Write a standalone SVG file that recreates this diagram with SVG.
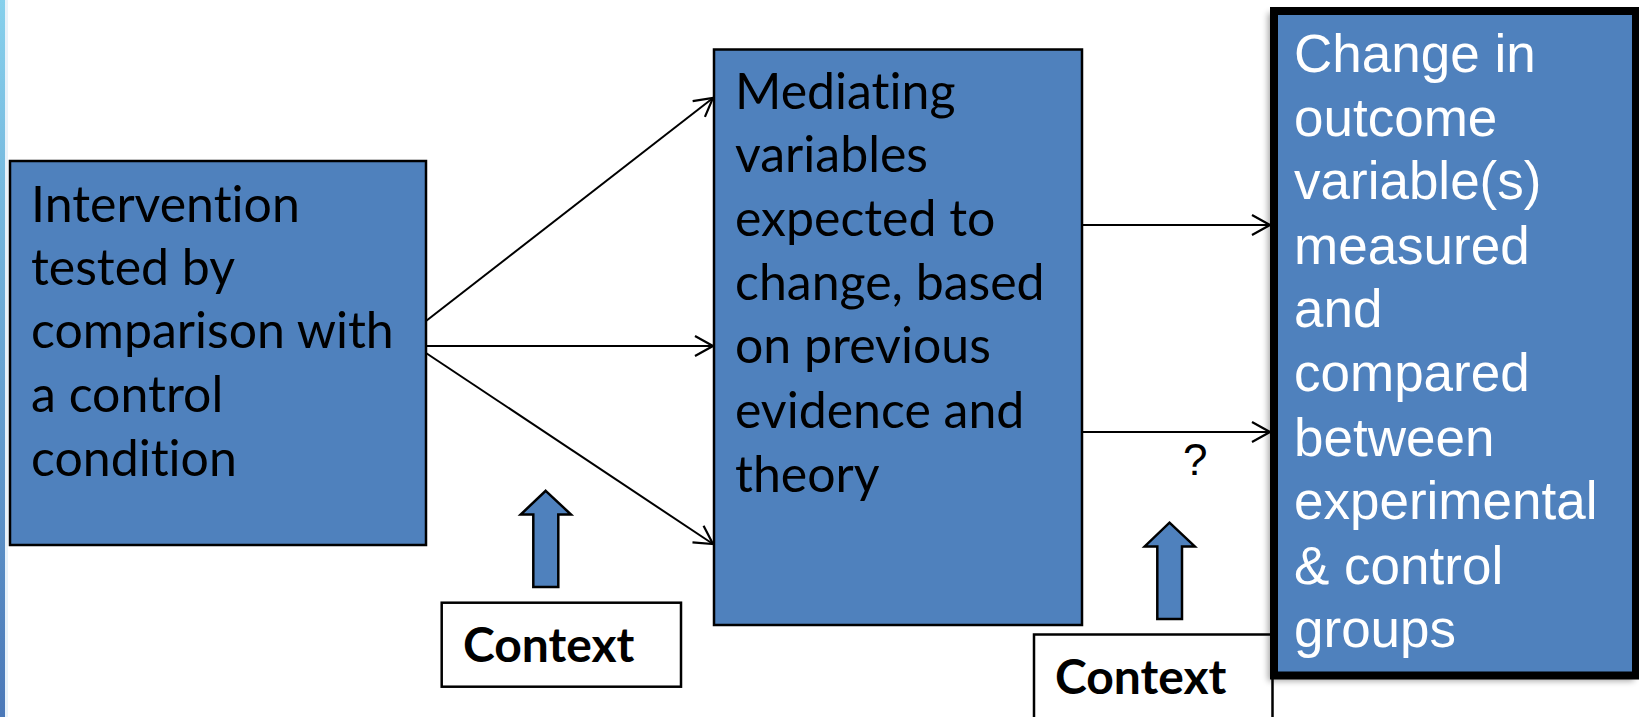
<svg xmlns="http://www.w3.org/2000/svg" width="1639" height="717" viewBox="0 0 1639 717">
<defs>
<style>
.box{fill:#4f81bd;stroke:#000;stroke-width:2.5}
.ctx{fill:#fff;stroke:#000;stroke-width:2.5}
.t{font-family:Lato,"Open Sans",sans-serif;font-size:50px;fill:#000;font-variant-ligatures:none;font-feature-settings:"liga" 0}
.tw{font-family:"Liberation Sans",Arial,sans-serif;font-size:53px;fill:#fff}
.tb{font-family:Lato,"Open Sans",sans-serif;font-size:48px;font-weight:bold;fill:#000;font-variant-ligatures:none;font-feature-settings:"liga" 0}
.ln{stroke:#000;stroke-width:2;fill:none}
.blk{fill:#4f81bd;stroke:#000;stroke-width:2.5;stroke-linejoin:miter}
</style>
<marker id="ah" markerUnits="userSpaceOnUse" viewBox="0 0 20 22" refX="19" refY="11" markerWidth="20" markerHeight="22" orient="auto">
<path d="M1,1 L19,11 L1,21" fill="none" stroke="#000" stroke-width="2.2"/>
</marker>
<linearGradient id="strip" x1="0" y1="0" x2="0" y2="1">
<stop offset="0" stop-color="#86d0ec"/>
<stop offset="1" stop-color="#4a78b8"/>
</linearGradient>
<filter id="sh" x="-5%" y="-5%" width="110%" height="110%">
<feGaussianBlur stdDeviation="3"/>
</filter>
</defs>
<rect width="1639" height="717" fill="#fff"/>
<rect x="0" y="0" width="5" height="717" fill="url(#strip)"/>
<rect x="5" y="0" width="3" height="717" fill="#d8eaf6" opacity="0.6"/>

<g id="connectors">
<line class="ln" x1="426" y1="321" x2="713" y2="98" marker-end="url(#ah)"/>
<line class="ln" x1="426" y1="346" x2="713" y2="346" marker-end="url(#ah)"/>
<line class="ln" x1="426" y1="353" x2="713" y2="544" marker-end="url(#ah)"/>
<line class="ln" x1="1082" y1="225" x2="1270" y2="225" marker-end="url(#ah)"/>
<line class="ln" x1="1082" y1="432" x2="1270" y2="432" marker-end="url(#ah)"/>
<text x="1183" y="475" font-family="'Liberation Sans',Arial,sans-serif" font-size="44" fill="#000">?</text>
</g>

<g id="intervention">
<rect class="box" x="10" y="161" width="416" height="384"/>
<text class="t" x="31" y="222">Intervention</text>
<text class="t" x="31" y="285">tested by</text>
<text class="t" x="31" y="348">comparison with</text>
<text class="t" x="31" y="412">a control</text>
<text class="t" x="31" y="476">condition</text>
</g>

<g id="mediating">
<rect class="box" x="714" y="49.5" width="368" height="575.5"/>
<text class="t" x="735" y="109">Mediating</text>
<text class="t" x="735" y="172">variables</text>
<text class="t" x="735" y="236">expected to</text>
<text class="t" x="735" y="300">change, based</text>
<text class="t" x="735" y="363">on previous</text>
<text class="t" x="735" y="428">evidence and</text>
<text class="t" x="735" y="492">theory</text>
</g>

<g id="context-left">
<polygon class="blk" points="545.7,490.8 571,514.5 558.3,514.5 558.3,587 533.3,587 533.3,514.5 520.7,514.5"/>
<rect class="ctx" x="441.7" y="602.7" width="239.3" height="84"/>
<text class="tb" x="463" y="662">Context</text>
</g>

<g id="context-right">
<polygon class="blk" points="1169.5,522.6 1194.8,546.4 1182,546.4 1182,619 1157.3,619 1157.3,546.4 1144.7,546.4"/>
<rect class="ctx" x="1034" y="634.5" width="238.5" height="100"/>
<text class="tb" x="1055" y="694">Context</text>
</g>

<g id="outcome">
<rect x="1268" y="13" width="366" height="668" fill="#000" opacity="0.35" filter="url(#sh)"/>
<rect x="1274" y="11" width="362" height="664.5" fill="#4f81bd" stroke="#000" stroke-width="8"/>
<text class="tw" x="1294" y="72">Change in</text>
<text class="tw" x="1294" y="136">outcome</text>
<text class="tw" x="1294" y="199">variable(s)</text>
<text class="tw" x="1294" y="264">measured</text>
<text class="tw" x="1294" y="327">and</text>
<text class="tw" x="1294" y="391">compared</text>
<text class="tw" x="1294" y="456">between</text>
<text class="tw" x="1294" y="519">experimental</text>
<text class="tw" x="1294" y="584">&amp; control</text>
<text class="tw" x="1294" y="647">groups</text>
</g>
</svg>
